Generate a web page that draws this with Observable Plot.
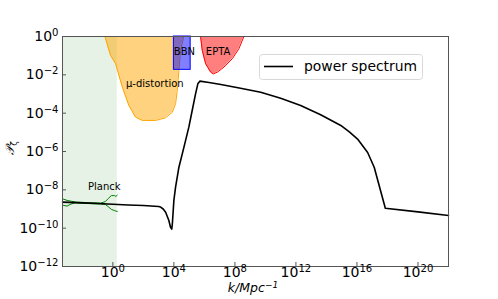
<!DOCTYPE html>
<html><head><meta charset="utf-8">
<script src="https://cdn.jsdelivr.net/npm/d3@7"></script>
<script src="https://cdn.jsdelivr.net/npm/@observablehq/plot@0.6"></script>
<style>body{margin:0;background:#fff} svg{display:block}</style>
</head><body><div id="chart"></div>
<script>
// log10 values
const spectrumLogK = [-3.3, -2, -1, 0, 1, 2, 2.5, 3.0, 3.13, 3.3, 3.46, 3.67, 3.78, 3.86, 3.9, 4.0, 4.11, 4.33, 4.66, 4.98, 5.2, 5.42, 5.57, 5.7, 6.3, 7.08, 8.37, 9.69, 11.0, 12.31, 13.62, 14.94, 15.5, 16.04, 16.7, 17.13, 17.86, 20, 22];
const spectrumLogP = [-8.64, -8.68, -8.71, -8.75, -8.79, -8.82, -8.84, -8.87, -8.9, -9.0, -9.17, -9.6, -9.95, -10.05, -9.77, -8.55, -7.86, -6.82, -5.77, -4.73, -3.86, -2.99, -2.47, -2.33, -2.40, -2.50, -2.70, -2.91, -3.22, -3.60, -4.08, -4.64, -4.98, -5.35, -6.05, -6.82, -8.96, -9.15, -9.34];

const planckUpperLogK = [-3.3, -3.0, -2.7, -2.4, -1.5, -0.8, -0.5, -0.3, -0.1, 0.1, 0.2, 0.29];
const planckUpperLogP = [-8.47, -8.55, -8.6, -8.64, -8.67, -8.69, -8.62, -8.45, -8.3, -8.3, -8.34, -8.28];
const planckLowerLogK = [-3.3, -3.0, -2.8, -2.5, -1.5, -0.8, -0.5, -0.3, -0.1, 0.1, 0.29];
const planckLowerLogP = [-8.8, -8.85, -8.76, -8.68, -8.72, -8.74, -8.76, -8.88, -9.02, -9.08, -9.13];
const planckLogKRange = [-3.3, 0.29];

const muLogK = [-0.52, -0.15, 0.18, 0.62, 1.05, 1.49, 1.93, 2.80, 3.46, 3.90, 4.11, 4.22, 4.33, 4.44, 4.64];
const muLogP = [0, -0.99, -1.42, -2.64, -3.60, -4.21, -4.38, -4.38, -4.24, -3.95, -3.51, -2.82, -1.77, -0.73, 0];

const bbnLogK = [4.0, 5.1];
const bbnLogP = [-1.74, 0];

const eptaLogK = [5.75, 5.86, 6.08, 6.41, 6.58, 6.85, 7.28, 7.83, 8.26, 8.59];
const eptaLogP = [0, -0.73, -1.42, -1.86, -1.95, -1.86, -1.60, -1.16, -0.64, 0];

const labelNames = ["BBN", "EPTA", "μ-distortion", "Planck"];
const labelLogK = [4.69, 6.9, 2.75, -0.56];
const labelLogP = [-0.78, -0.78, -2.48, -7.82];

const xTickExps = [0, 4, 8, 12, 16, 20];
const yTickExps = [0, -2, -4, -6, -8, -10, -12];
const legendLabel = "power spectrum";

const pts = (xs, ys) => xs.map((x, i) => ({k: 10 ** x, p: 10 ** ys[i]}));
const spectrum = pts(spectrumLogK, spectrumLogP);
const planckUpper = pts(planckUpperLogK, planckUpperLogP);
const planckLower = pts(planckLowerLogK, planckLowerLogP);
const mu = pts(muLogK, muLogP);
const epta = pts(eptaLogK, eptaLogP);
const labels = labelNames.map((t, i) => ({t, k: 10 ** labelLogK[i], p: 10 ** labelLogP[i]}));
const fmt = d => "10^" + Math.round(Math.log10(d));

const chart = Plot.plot({
  width: 498, height: 299,
  marginLeft: 62, marginRight: 50, marginTop: 36, marginBottom: 33,
  style: {fontFamily: "DejaVu Sans", fontSize: "14px", background: "white", color: "black"},
  x: {type: "log", domain: [5e-4, 1e22]},
  y: {type: "log", domain: [1e-12, 1]},
  marks: [
    Plot.rect([0], {x1: 10 ** planckLogKRange[0], x2: 10 ** planckLogKRange[1], y1: 1e-12, y2: 1, fill: "green", fillOpacity: 0.1}),
    Plot.areaY(mu, {x: "k", y1: "p", y2: 1, fill: "orange", fillOpacity: 0.5}),
    Plot.line(mu, {x: "k", y: "p", stroke: "orange", strokeWidth: 1}),
    Plot.rect([0], {x1: 10 ** bbnLogK[0], x2: 10 ** bbnLogK[1], y1: 10 ** bbnLogP[0], y2: 10 ** bbnLogP[1], fill: "blue", fillOpacity: 0.5, stroke: "blue", strokeWidth: 1}),
    Plot.areaY(epta, {x: "k", y1: "p", y2: 1, fill: "red", fillOpacity: 0.5}),
    Plot.line(epta, {x: "k", y: "p", stroke: "red", strokeWidth: 1}),
    Plot.line(planckUpper, {x: "k", y: "p", stroke: "green", strokeWidth: 1}),
    Plot.line(planckLower, {x: "k", y: "p", stroke: "green", strokeWidth: 1}),
    Plot.line(spectrum, {x: "k", y: "p", stroke: "black", strokeWidth: 1.6}),
    Plot.text(labels, {x: "k", y: "p", text: "t", fontSize: 10, fill: "black"}),
    Plot.frame({stroke: "#555"}),
    Plot.axisX({ticks: xTickExps.map(e => 10 ** e), tickFormat: fmt, tickSize: -4, tickPadding: 5, label: null, stroke: "#555"}),
    Plot.axisY({ticks: yTickExps.map(e => 10 ** e), tickFormat: fmt, tickSize: -4, tickPadding: 8, label: null, stroke: "#555"})
  ]
});
document.getElementById("chart").appendChild(chart);

const svg = d3.select(chart);
// superscript exponents
svg.selectAll("text").each(function() {
  const m = /^10\^(-?\d+)$/.exec(this.textContent);
  if (!m) return;
  const el = d3.select(this);
  el.text("10");
  el.append("tspan").attr("dy", "-0.5em").attr("font-size", "0.72em").text(m[1].replace("-", "−"));
});

// axis labels
const xl = svg.append("text").attr("x", 253).attr("y", 292).attr("text-anchor", "middle")
  .attr("font-size", 12.5).attr("font-style", "italic").attr("font-family", "DejaVu Sans");
xl.append("tspan").text("k/Mpc");
xl.append("tspan").attr("dy", "-0.45em").attr("font-size", "0.72em").text("−1");

const yl = svg.append("text").attr("transform", "translate(14,148) rotate(-90)").attr("text-anchor", "middle")
  .attr("font-size", 12).attr("font-family", "DejaVu Sans");
yl.append("tspan").attr("font-style", "italic").text("𝒫");
yl.append("tspan").attr("dy", "0.3em").attr("font-size", "0.7em").text("ζ");

// legend
const lg = svg.append("g").attr("text-anchor", "start");
lg.append("rect").attr("x", 259.5).attr("y", 54.5).attr("width", 163).attr("height", 25).attr("rx", 3)
  .attr("fill", "white").attr("fill-opacity", 0.8).attr("stroke", "#d8d8d8");
lg.append("line").attr("x1", 264).attr("x2", 293).attr("y1", 66.5).attr("y2", 66.5).attr("stroke", "black").attr("stroke-width", 1.6);
lg.append("text").attr("x", 304).attr("y", 71).attr("font-size", 13.9).attr("font-family", "DejaVu Sans").attr("text-anchor", "start").text(legendLabel);
</script>
</body></html>
